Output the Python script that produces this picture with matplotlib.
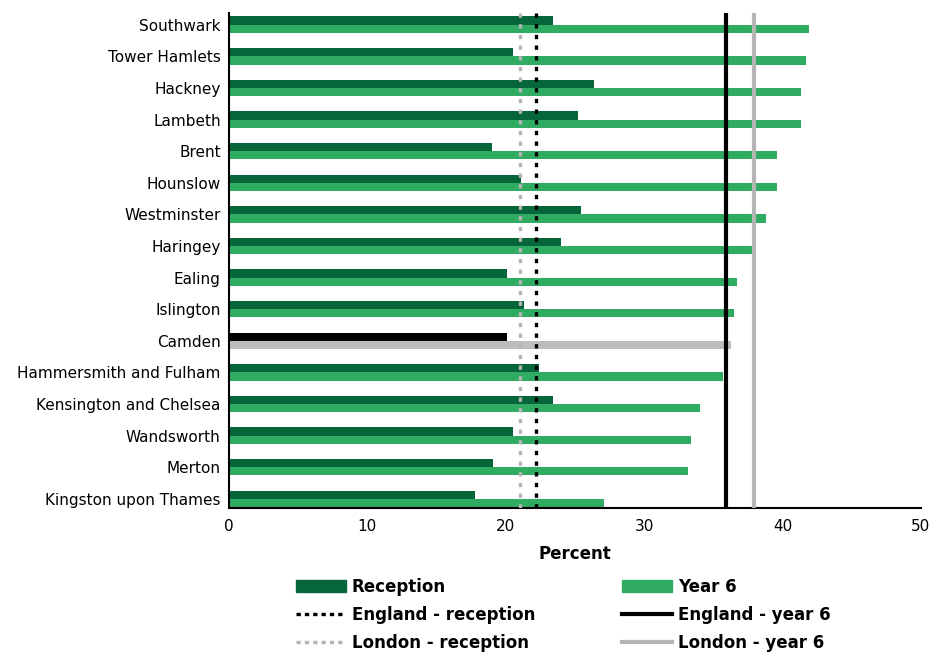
import matplotlib
matplotlib.use("Agg")
import matplotlib.pyplot as plt
from matplotlib.patches import Patch
from matplotlib.lines import Line2D
import numpy as np

# Data
boroughs = ["Southwark", "Tower Hamlets", "Hackney", "Lambeth", "Brent",
            "Hounslow", "Westminster", "Haringey", "Ealing", "Islington",
            "Camden", "Hammersmith and Fulham", "Kensington and Chelsea",
            "Wandsworth", "Merton", "Kingston upon Thames"]
reception = [23.4, 20.5, 26.4, 25.2, 19.0, 21.1, 25.4, 24.0, 20.1, 21.3,
             20.1, 22.4, 23.4, 20.5, 19.1, 17.8]
year6 = [41.9, 41.7, 41.35, 41.35, 39.6, 39.6, 38.8, 38.0, 36.7, 36.5,
         36.3, 35.7, 34.0, 33.4, 33.2, 27.1]
england_reception = 22.2
london_reception = 21.0
england_year6 = 35.9
london_year6 = 37.9
highlight = "Camden"

dark_green = "#07653a"
light_green = "#30ac62"
light_grey = "#b5b5b5"

plt.rcParams['font.family'] = ['DejaVu Sans']

fig = plt.figure(figsize=(9.34, 6.55), dpi=100)
ax = fig.add_axes([229 / 934, 1 - 507.7 / 655, (921 - 229) / 934, (507.7 - 13) / 655])

y = np.arange(len(boroughs))
h = 0.26
rec_colors = ["black" if b == highlight else dark_green for b in boroughs]
y6_colors = ["#bdbdbd" if b == highlight else light_green for b in boroughs]
ax.barh(y - h / 2, reception, height=h, color=rec_colors, zorder=2)
ax.barh(y + h / 2, year6, height=h, color=y6_colors, zorder=2)

# Reference lines
ax.axvline(london_reception, color=light_grey, lw=2.4, ls=(0, (1.3, 1.9)), zorder=3)
ax.axvline(england_reception, color="black", lw=2.4, ls=(0, (1.3, 1.9)), zorder=3)
ax.axvline(england_year6, color="black", lw=3, zorder=3)
ax.axvline(london_year6, color=light_grey, lw=3, zorder=3)

ax.set_yticks(y)
ax.set_yticklabels(boroughs, fontsize=11)
ax.set_ylim(len(boroughs) - 1 + 0.28, -0.37)
ax.set_xlim(0, 50)
ax.set_xticks(range(0, 51, 10))
ax.tick_params(axis="x", labelsize=11, length=0, pad=8)
ax.tick_params(axis="y", length=0, pad=6)
ax.set_xlabel("Percent", fontsize=12, fontweight="bold", labelpad=8)

for s in ["top", "right"]:
    ax.spines[s].set_visible(False)
for s in ["left", "bottom"]:
    ax.spines[s].set_linewidth(1.5)

handles = [
    Patch(color=dark_green),
    Line2D([], [], color="black", lw=2.4, ls=(0, (1.3, 1.2))),
    Line2D([], [], color=light_grey, lw=2.4, ls=(0, (1.3, 1.2))),
    Patch(color=light_green),
    Line2D([], [], color="black", lw=3),
    Line2D([], [], color=light_grey, lw=3),
]
labels = ["Reception", "England - reception", "London - reception",
          "Year 6", "England - year 6", "London - year 6"]
fig.legend(handles, labels, ncol=2, loc="upper left",
           bbox_to_anchor=(296 / 934, 1 - 578 / 655), frameon=False,
           prop={"size": 12, "weight": "bold"}, handlelength=3.0,
           handleheight=0.75, handletextpad=0.35, labelspacing=0.6,
           columnspacing=5.2, borderpad=0, borderaxespad=0)

fig.savefig("out.png", dpi=100)
